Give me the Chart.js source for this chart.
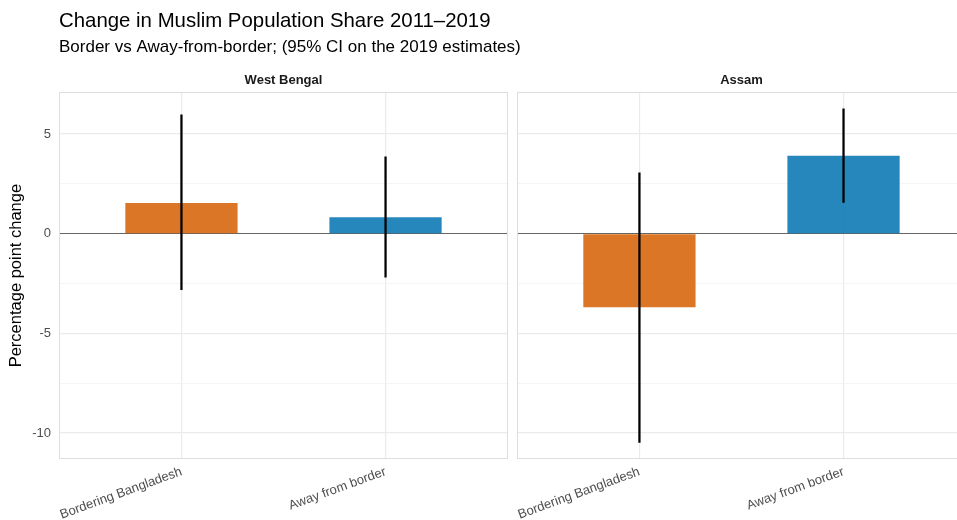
<!DOCTYPE html>
<html>
<head>
<meta charset="utf-8">
<script src="https://cdn.jsdelivr.net/npm/chart.js@4/dist/chart.umd.min.js"></script>
<style>
  html, body { margin: 0; padding: 0; background: #ffffff; overflow: hidden; }
  canvas { display: block; }
</style>
</head>
<body>
<canvas id="chart" width="957" height="520"></canvas>
<script>
// Facets, categories and values (percentage points, 2011 -> 2019)
const PANELS = ['West Bengal', 'Assam'];
const CATEGORIES = ['Bordering Bangladesh', 'Away from border'];
const CHANGE_WEST_BENGAL = [1.54, 0.82];
const CHANGE_ASSAM = [-3.69, 3.91];
const CI_LOW_WEST_BENGAL = [-2.81, -2.19];
const CI_HIGH_WEST_BENGAL = [5.96, 3.85];
const CI_LOW_ASSAM = [-10.47, 1.57];
const CI_HIGH_ASSAM = [3.05, 6.26];
const Y_TICKS = [-10, -7.5, -5, -2.5, 0, 2.5, 5];
const CATEGORY_COLORS = ['rgba(213, 94, 0, 0.85)', 'rgba(0, 114, 178, 0.85)'];

const CHANGE = [CHANGE_WEST_BENGAL, CHANGE_ASSAM];
const CI_LOW = [CI_LOW_WEST_BENGAL, CI_LOW_ASSAM];
const CI_HIGH = [CI_HIGH_WEST_BENGAL, CI_HIGH_ASSAM];

// Facets laid out on one continuous x scale: each panel holds its
// categories one unit apart with 0.6 units of padding on either side.
const EXPAND = 0.6;
const PANEL_SPAN = CATEGORIES.length - 1 + 2 * EXPAND;
const PANEL_GAP = 0.044;
const X_MAX = 4.40;
const panelStart = p => p * (PANEL_SPAN + PANEL_GAP);
const catX = (p, i) => panelStart(p) + EXPAND + i;

const barPoints = [], ciPoints = [], barColors = [], tickX = [], tickLabels = [];
PANELS.forEach((_, p) => {
  CATEGORIES.forEach((cat, i) => {
    barPoints.push({ x: catX(p, i), y: CHANGE[p][i] });
    ciPoints.push({ x: catX(p, i), y: [CI_LOW[p][i], CI_HIGH[p][i]] });
    barColors.push(CATEGORY_COLORS[i]);
    tickX.push(catX(p, i));
    tickLabels.push(cat);
  });
});

// y range: full data extent (intervals included) widened by 5% each side
const allValues = [...CHANGE.flat(), ...CI_LOW.flat(), ...CI_HIGH.flat(), 0];
const yLo = Math.min(...allValues);
const yHi = Math.max(...allValues);
const yPad = (yHi - yLo) * 0.05;

const FONT = 'Liberation Sans, Arial, Helvetica, sans-serif';

// Panel frames and the blank gutter between facets
const facetPanels = {
  id: 'facetPanels',
  beforeDatasetsDraw(chart) {
    const { ctx, chartArea: a, scales: { x } } = chart;
    ctx.save();
    for (let p = 0; p < PANELS.length - 1; p++) {
      const l = x.getPixelForValue(panelStart(p) + PANEL_SPAN);
      const r = x.getPixelForValue(panelStart(p + 1));
      ctx.fillStyle = '#ffffff';
      ctx.fillRect(l, a.top - 1, r - l, a.bottom - a.top + 2);
    }
    ctx.strokeStyle = '#DEDEDE';
    ctx.lineWidth = 1;
    PANELS.forEach((_, p) => {
      const l = Math.round(x.getPixelForValue(panelStart(p)));
      const r = Math.round(x.getPixelForValue(panelStart(p) + PANEL_SPAN));
      ctx.strokeRect(l + 0.5, Math.round(a.top) + 0.5, r - l - 1, Math.round(a.bottom - a.top) - 1);
    });
    ctx.restore();
  }
};

new Chart(document.getElementById('chart'), {
  type: 'bar',
  data: {
    datasets: [
      {
        label: '95% CI',
        data: ciPoints,
        backgroundColor: '#000000',
        barThickness: 1.6,
        grouped: false,
        order: 0
      },
      {
        label: 'Change',
        data: barPoints,
        backgroundColor: barColors,
        barPercentage: 0.55,
        categoryPercentage: 1,
        grouped: false,
        order: 1
      }
    ]
  },
  options: {
    responsive: false,
    devicePixelRatio: 1,
    animation: false,
    layout: { padding: 0 },
    plugins: {
      legend: { display: false },
      tooltip: { enabled: false },
      title: {
        display: true,
        text: 'Change in Muslim Population Share 2011\u20132019',
        align: 'start',
        fullSize: false,
        color: '#000000',
        font: { family: FONT, size: 20.4, weight: 'normal' },
        padding: { top: 9, bottom: 0 }
      },
      subtitle: {
        display: true,
        text: 'Border vs Away-from-border; (95% CI on the 2019 estimates)',
        align: 'start',
        fullSize: false,
        color: '#000000',
        font: { family: FONT, size: 17, weight: 'normal' },
        padding: { top: 4, bottom: 0 }
      }
    },
    scales: {
      x: {
        type: 'linear',
        position: 'bottom',
        min: 0,
        max: X_MAX,
        offset: false,
        afterBuildTicks: s => { s.ticks = tickX.map(v => ({ value: v })); },
        afterFit: s => { s.height = 61; },
        border: { display: false },
        grid: { offset: false, drawTicks: false, color: '#EBEBEB', lineWidth: 1.2 },
        ticks: {
          autoSkip: false,
          minRotation: 20,
          maxRotation: 20,
          padding: 5,
          color: '#4D4D4D',
          font: { family: FONT, size: 13 },
          callback: (v, i) => tickLabels[i]
        }
      },
      strip: {
        type: 'linear',
        position: 'top',
        axis: 'x',
        min: 0,
        max: X_MAX,
        offset: false,
        afterBuildTicks: s => { s.ticks = PANELS.map((_, p) => ({ value: panelStart(p) + PANEL_SPAN / 2 })); },
        afterFit: s => { s.height = 34.3; },
        border: { display: false },
        grid: { display: false, drawTicks: false },
        ticks: {
          autoSkip: false,
          maxRotation: 0,
          padding: 4,
          color: '#1A1A1A',
          font: { family: FONT, size: 13, weight: 'bold' },
          callback: (v, i) => PANELS[i]
        }
      },
      y: {
        type: 'linear',
        min: yLo - yPad,
        max: yHi + yPad,
        afterBuildTicks: s => { s.ticks = Y_TICKS.map(v => ({ value: v })); },
        afterFit: s => { s.width = 59; },
        border: { display: false },
        grid: {
          drawTicks: false,
          color: c => c.tick.value === 0 ? '#666666' : (c.tick.value % 5 === 0 ? '#EBEBEB' : '#F3F3F3'),
          lineWidth: c => c.tick.value === 0 ? 1 : (c.tick.value % 5 === 0 ? 1.2 : 0.8)
        },
        ticks: {
          padding: 8,
          color: '#4D4D4D',
          font: { family: FONT, size: 13 },
          callback: v => (v % 5 === 0 ? String(v) : '')
        },
        title: {
          display: true,
          text: 'Percentage point change',
          color: '#000000',
          font: { family: FONT, size: 16.5 },
          padding: { top: 7, bottom: 0 }
        }
      }
    }
  },
  plugins: [facetPanels]
});
</script>
</body>
</html>
